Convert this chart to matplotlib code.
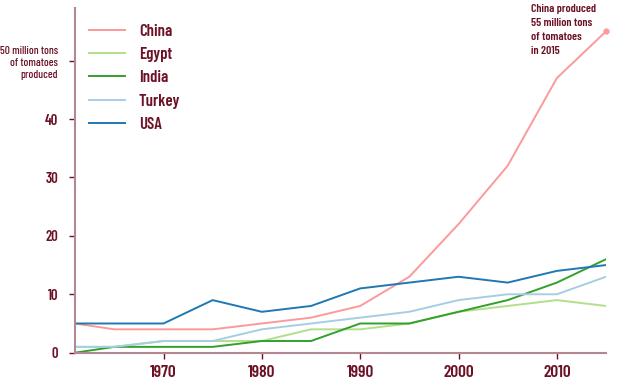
import matplotlib.pyplot as plt

years = [1961, 1965, 1970, 1975, 1980, 1985, 1990, 1995, 2000, 2005, 2010, 2015]
china = [5, 4, 4, 4, 5, 6, 8, 13, 22, 32, 47, 55]
egypt = [1, 1, 2, 2, 2, 4, 4, 5, 7, 8, 9, 8]
india = [0, 1, 1, 1, 2, 2, 5, 5, 7, 9, 12, 16]
turkey = [1, 1, 2, 2, 4, 5, 6, 7, 9, 10, 10, 13]
usa = [5, 5, 5, 9, 7, 8, 11, 12, 13, 12, 14, 15]

names = ['China', 'Egypt', 'India', 'Turkey', 'USA']
colors = ['#fb9a99', '#b2df8a', '#33a02c', '#a6cee3', '#1f78b4']
yticks = [0, 10, 20, 30, 40, 50]
ytick_labels = ['0', '10', '20', '30', '40', '50 million tons\nof tomatoes\nproduced']
xticks = [1970, 1980, 1990, 2000, 2010]

plt.rcParams['font.family'] = ['Barlow Condensed', 'DejaVu Sans']
plt.rcParams['font.weight'] = 600

txt = '#6b1226'
axc = '#b38891'

fig = plt.figure(figsize=(6.26, 3.85), dpi=100)
ax = fig.add_axes([75/626, 1-352.7/385, (606-75)/626, (352.7-8)/385])

for name, vals, c in zip(names, [china, egypt, india, turkey, usa], colors):
    ax.plot(years, vals, color=c, lw=1.4, label=name)
ax.plot(years[-1], china[-1], 'o', color=colors[0], ms=3.5, clip_on=False)

ax.set_xlim(1961, 2015)
ax.set_ylim(0, 59)
ax.set_yticks(yticks)
ax.set_yticklabels(ytick_labels, ha='right', linespacing=1.25)
ax.set_xticks(xticks)
ax.tick_params(axis='both', colors=txt, length=4, width=1)
ax.tick_params(axis='y', pad=8, labelsize=10.5)
ax.tick_params(axis='x', pad=5, labelsize=12.5)
for lab in ax.get_yticklabels():
    lab.set_multialignment('right')
    if '\n' in lab.get_text():
        lab.set_fontsize(8.2)
        lab.set_fontweight(500)
for s in ['top', 'right']:
    ax.spines[s].set_visible(False)
for s in ['left', 'bottom']:
    ax.spines[s].set_color(axc)
    ax.spines[s].set_linewidth(1.5)

leg = ax.legend(loc='upper left', bbox_to_anchor=(0.026, 0.955), frameon=False,
                borderpad=0, borderaxespad=0, handlelength=2.2, handletextpad=0.8,
                labelspacing=0.5, fontsize=12)
for t in leg.get_texts():
    t.set_color(txt)

ax.text(2007.4, 59.6, 'China produced\n55 million tons\nof tomatoes\nin 2015', color=txt,
        fontsize=8.5, va='top', ha='left', linespacing=1.5)

fig.savefig('out.png', dpi=100)
